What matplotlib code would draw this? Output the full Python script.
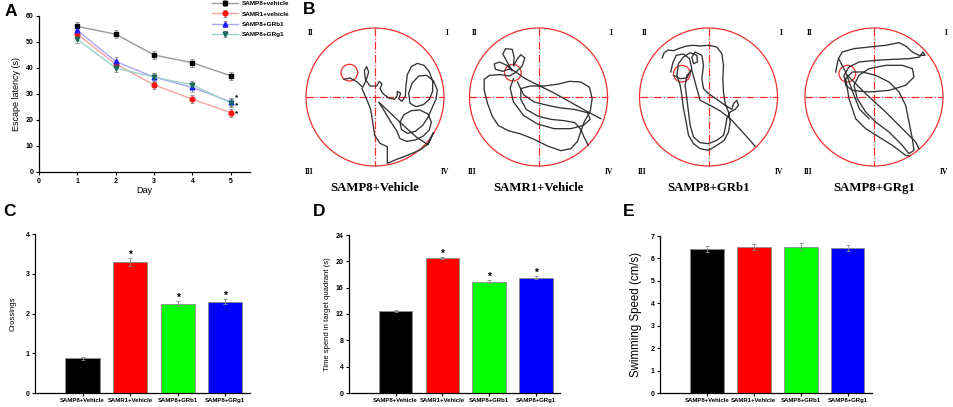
import numpy as np
import matplotlib.pyplot as plt
from matplotlib.patches import Circle

plt.rcParams['font.family'] = ['Liberation Sans', 'DejaVu Sans']
plt.rcParams['font.weight'] = 'bold'
plt.rcParams['axes.linewidth'] = 0.9

W, H = 954, 407

# ---------------- data ----------------
days = [1, 2, 3, 4, 5]
groups_a = ["SAMP8+vehicle", "SAMR1+vehicle", "SAMP8+GRb1", "SAMP8+GRg1"]
lat_samp8 = [56.0, 53.0, 45.0, 42.0, 37.0]
lat_samr1 = [53.0, 41.5, 33.5, 28.0, 22.8]
lat_grb1 = [54.5, 42.5, 36.5, 32.5, 27.0]
lat_grg1 = [51.0, 40.0, 36.5, 33.5, 26.5]
err_samp8 = [1.5, 1.6, 1.6, 1.5, 1.6]
err_samr1 = [1.5, 1.5, 1.5, 1.6, 1.5]
err_grb1 = [1.5, 1.6, 1.7, 1.6, 1.5]
err_grg1 = [1.5, 1.6, 1.7, 1.6, 1.5]
star_days = [5, 5, 5]
star_levels = [28.6, 25.4, 22.4]

bar_groups = ["SAMP8+Vehicle", "SAMR1+Vehicle", "SAMP8+GRb1", "SAMP8+GRg1"]
crossings = [0.87, 3.30, 2.25, 2.30]
crossings_err = [0.04, 0.10, 0.07, 0.07]
time_target = [12.5, 20.5, 16.9, 17.5]
time_target_err = [0.15, 0.15, 0.2, 0.25]
speed = [6.42, 6.52, 6.52, 6.48]
speed_err = [0.12, 0.14, 0.15, 0.13]

track_titles = ["SAMP8+Vehicle", "SAMR1+Vehicle", "SAMP8+GRb1", "SAMP8+GRg1"]
# swim traces on a 450 x 450 grid, tank centre (225, 225), radius 207, y down
trace_samp8 = [
    [(132, 172), (150, 168), (172, 180), (188, 196), (198, 176), (206, 150), (200, 134),
     (193, 146), (196, 172), (210, 192), (230, 192), (238, 178), (246, 186), (240, 200),
     (248, 214), (266, 228), (284, 232), (292, 220), (292, 208), (302, 214), (296, 230),
     (306, 238), (316, 222), (318, 190), (322, 158), (334, 134), (352, 124), (372, 130),
     (388, 150), (398, 178), (398, 208), (388, 232), (370, 248), (348, 254), (330, 244),
     (326, 214), (336, 184), (356, 162), (380, 160), (400, 176), (412, 204), (408, 232),
     (396, 258), (384, 286), (368, 310), (346, 328), (322, 334), (304, 322), (300, 300),
     (312, 278), (334, 266), (360, 264), (384, 276), (394, 300), (388, 324), (370, 342),
     (346, 354), (320, 358), (300, 350), (290, 326), (270, 296), (250, 262), (236, 240),
     (270, 272), (310, 310), (350, 346), (384, 368), (400, 332), (384, 366), (360, 384),
     (322, 400), (290, 412), (262, 424), (262, 374), (240, 364), (224, 340), (218, 300),
     (212, 262), (200, 232), (186, 200)],
]
trace_samr1 = [
    [(412, 290), (370, 268), (320, 240), (270, 212), (225, 190), (185, 170), (160, 152),
     (140, 140), (118, 148), (96, 142), (92, 126), (108, 120), (130, 130), (146, 146),
     (132, 122), (118, 96), (126, 80), (146, 82), (152, 106), (150, 132), (162, 110),
     (172, 98), (184, 108), (176, 132), (158, 150), (138, 162), (110, 158), (78, 160),
     (62, 172), (62, 204), (72, 244), (86, 282), (104, 310), (134, 326), (172, 336),
     (212, 352), (252, 372), (292, 386), (322, 380), (342, 358), (352, 328), (362, 300),
     (380, 268), (386, 230), (378, 196), (352, 180), (318, 178), (286, 186), (242, 192),
     (200, 192), (172, 200), (172, 232), (188, 262), (222, 282), (262, 292), (302, 296),
     (334, 302), (352, 322), (362, 346), (374, 370)],
    [(150, 170), (140, 198), (150, 240), (180, 280), (222, 306), (272, 320), (322, 320),
     (360, 310), (380, 292), (372, 272), (332, 262), (292, 258), (252, 250), (212, 240),
     (180, 218), (162, 180)],
]
trace_grb1 = [
    [(86, 108), (92, 92), (104, 84), (120, 86), (140, 78), (160, 72), (180, 70), (200, 72),
     (225, 70), (250, 75), (265, 95), (270, 130), (268, 170), (270, 210), (275, 245),
     (285, 270), (290, 300), (285, 330), (272, 355), (250, 370), (225, 385), (200, 380),
     (180, 365), (165, 340), (158, 300), (150, 260), (145, 220), (140, 190), (130, 160),
     (135, 125), (150, 105), (170, 92), (190, 100), (192, 120), (180, 125), (175, 105),
     (185, 90), (205, 100), (210, 130), (205, 170), (210, 200), (225, 215), (250, 232),
     (275, 250), (295, 262), (300, 245), (310, 235), (315, 250), (305, 262), (290, 270),
     (280, 290), (275, 320), (270, 340), (250, 355), (225, 365), (200, 362), (180, 345),
     (170, 310), (165, 270), (160, 230), (155, 190), (160, 160), (175, 145), (182, 170),
     (190, 200), (200, 235), (230, 250), (262, 268), (290, 290), (320, 322), (345, 350),
     (365, 373)],
    [(112, 150), (118, 122), (128, 100), (150, 96), (168, 110), (175, 140), (160, 168),
     (140, 170), (120, 160)],
]
trace_grg1 = [
    [(110, 150), (118, 110), (130, 90), (165, 80), (210, 75), (260, 70), (300, 62),
     (320, 72), (340, 90), (360, 100), (378, 100), (372, 90), (362, 105), (330, 110),
     (280, 112), (230, 115), (180, 120), (150, 135), (135, 160), (140, 190), (160, 205),
     (210, 210), (270, 205), (320, 190), (345, 165), (340, 140), (310, 130), (260, 130),
     (210, 140), (180, 160), (165, 190), (175, 230), (200, 270), (230, 300), (270, 330),
     (310, 370), (330, 395), (345, 385), (340, 350), (330, 300), (320, 250), (300, 210),
     (270, 180), (230, 160), (190, 150), (160, 150), (140, 170), (150, 230), (170, 290),
     (200, 320), (240, 345), (280, 370), (320, 400), (332, 402)],
    [(145, 160), (200, 215), (260, 270), (310, 320), (350, 360), (360, 380)],
    [(120, 112), (140, 150), (165, 220), (182, 262), (210, 290)],
]
traces = [trace_samp8, trace_samr1, trace_grb1, trace_grg1]
platform_xy = [(148, 152), (148, 152), (145, 155), (145, 155)]
platform_r = 25


def box(l, t, r, b):
    return [l / W, 1 - b / H, (r - l) / W, (b - t) / H]


def style_axes(ax, size=5):
    ax.spines['top'].set_visible(False)
    ax.spines['right'].set_visible(False)
    ax.tick_params(labelsize=size, width=0.8, length=2.5, direction='out', pad=1.5)
    for lab in ax.get_xticklabels() + ax.get_yticklabels():
        lab.set_fontweight('bold')


fig = plt.figure(figsize=(W / 100, H / 100), dpi=100)

# ---------------- A ----------------
axA = fig.add_axes(box(39, 16, 250, 172))
series = [
    (lat_samp8, err_samp8, '#9a9a9a', 's', 'black'),
    (lat_samr1, err_samr1, '#f5a3a3', 'o', '#ff1010'),
    (lat_grb1, err_grb1, '#a8a8f0', '^', '#1a1aff'),
    (lat_grg1, err_grg1, '#9ad4cc', 'v', '#17695c'),
]
for name, (vals, err, lc, mk, mc) in zip(groups_a, series):
    axA.errorbar(days, vals, yerr=err, color=lc, lw=1.0, marker=mk, ms=3.4,
                 mfc=mc, mec=mc, ecolor='#8a8a8a', elinewidth=0.6, capsize=1.5,
                 capthick=0.6, label=name)
axA.set_xlim(0, 5.5)
axA.set_ylim(0, 60)
axA.set_xticks(range(0, 6))
axA.set_yticks(range(0, 61, 10))
style_axes(axA)
axA.set_xlabel("Day", fontsize=6.5, labelpad=1)
axA.set_ylabel("Escape latency (s)", fontsize=6.5, labelpad=3)
for d, yy in zip(star_days, star_levels):
    axA.text(d + 0.1, yy, '*', fontsize=6, ha='left', va='center')
leg = fig.legend(*axA.get_legend_handles_labels(), loc='upper left',
                 bbox_to_anchor=(212 / W, 1 - 1 / H), frameon=False, fontsize=4.6,
                 handlelength=4.0, labelspacing=0.75, handletextpad=0.6,
                 borderaxespad=0, borderpad=0)

# ---------------- B ----------------
axB = fig.add_axes(box(300, 0, 954, 200))
axB.set_xlim(300, 954)
axB.set_ylim(200, 0)
axB.axis('off')
tank_cx = [375, 538.5, 708.5, 874]
tank_cy = 97
R = 69
for i, (cx, segs) in enumerate(zip(tank_cx, traces)):
    axB.add_patch(Circle((cx, tank_cy), R, fill=False, ec='#f03030', lw=0.9))
    axB.plot([cx, cx], [tank_cy - R, tank_cy + R], color='#f03030', lw=0.9, ls='-.')
    axB.plot([cx - R, cx + R], [tank_cy, tank_cy], color='#f03030', lw=0.9, ls='-.')
    px, py = platform_xy[i]
    axB.add_patch(Circle((cx + (px - 225) / 207 * R, tank_cy + (py - 225) / 207 * R),
                         platform_r / 207 * R, fill=False, ec='#f03030', lw=0.9))
    for seg in segs:
        pts = np.array(seg, dtype=float)
        axB.plot(cx + (pts[:, 0] - 225) / 207 * R, tank_cy + (pts[:, 1] - 225) / 207 * R,
                 color='#333333', lw=0.95)
    for lab, dx, dy in [("II", -0.93, -0.93), ("I", 1.05, -0.93),
                        ("III", -0.96, 1.09), ("IV", 1.02, 1.09)]:
        axB.text(cx + dx * R, tank_cy + dy * R, lab, fontsize=5.5, family='Liberation Serif',
                 fontweight='bold', ha='center', va='center')
    axB.text(cx, 188, track_titles[i], fontsize=9.2, family='Liberation Serif',
             fontweight='bold', ha='center', va='center')


# ---------------- C, D, E ----------------
bar_colors = ['black', '#ff0000', '#00ff00', '#0000ff']
xpos = np.arange(1, 5)


def bar_panel(rect, vals, errs, ylim, yticks, ylabel, stars, ylab_kw):
    ax = fig.add_axes(box(*rect))
    ax.bar(xpos, vals, width=0.72, color=bar_colors, edgecolor='#8c8c8c', lw=0.6)
    ax.errorbar(xpos, vals, yerr=errs, fmt='none', ecolor='#8a8a8a', elinewidth=0.6,
                capsize=1.5, capthick=0.6)
    ax.set_xlim(0, 4.52)
    ax.set_ylim(*ylim)
    ax.set_yticks(yticks)
    ax.set_xticks(xpos)
    ax.set_xticklabels(bar_groups)
    style_axes(ax)
    ax.tick_params(axis='x', labelsize=4.3, pad=1)
    ax.set_ylabel(ylabel, **ylab_kw)
    if stars:
        for x, v, e in zip(xpos, vals, errs):
            if x > 1:
                ax.text(x, v + e - (ylim[1] - ylim[0]) * 0.01, '*', fontsize=7.5,
                        ha='center', va='bottom')
    return ax


bar_panel((35, 234, 250, 393), crossings, crossings_err, (0, 4), range(0, 5),
          "Crossings", True, dict(fontsize=5.6, labelpad=6))
bar_panel((349, 235, 560, 393), time_target, time_target_err, (0, 24), range(0, 25, 4),
          "Time spend in target quadrant (s)", True, dict(fontsize=5.5, labelpad=3))
bar_panel((660, 236, 872, 393), speed, speed_err, (0, 7), range(0, 8),
          "Swimming Speed (cm/s)", False, dict(fontsize=8.3, fontweight='normal', labelpad=6))

# panel letters
for lab, x, y in [("A", 5, 12), ("B", 303, 10), ("C", 3, 211), ("D", 313, 211), ("E", 623, 211)]:
    fig.text(x / W, 1 - y / H, lab, fontsize=12.5, fontweight='bold', ha='left', va='center')

fig.savefig("out.png", dpi=100)
